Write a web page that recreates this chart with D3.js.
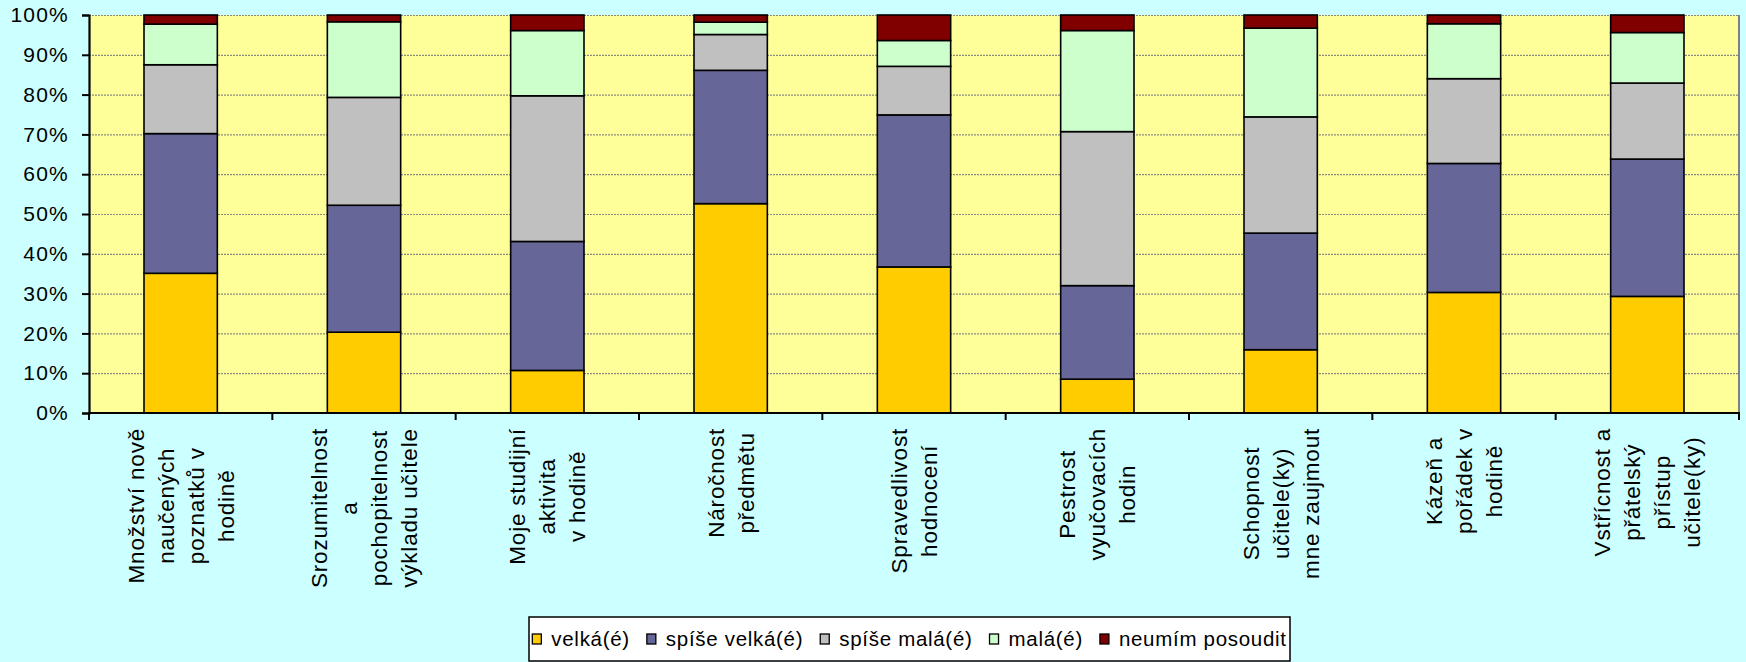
<!DOCTYPE html>
<html>
<head>
<meta charset="utf-8">
<script src="https://cdn.jsdelivr.net/npm/d3@7"></script>
<style>
  html, body { margin: 0; padding: 0; background: #CCFFFF; }
  svg { display: block; }
  text { font-family: "Liberation Sans", Arial, sans-serif; fill: #000; }
</style>
</head>
<body>
<svg id="chart" width="1746" height="662"></svg>
<script>
// ---- data ----
const categories = [
  "Množství nově naučených poznatků v hodině",
  "Srozumitelnost a pochopitelnost výkladu učitele",
  "Moje studijní aktivita v hodině",
  "Náročnost předmětu",
  "Spravedlivost hodnocení",
  "Pestrost vyučovacích hodin",
  "Schopnost učitele(ky) mne zaujmout",
  "Kázeň a pořádek v hodině",
  "Vstřícnost a přátelský přístup učitele(ky)"
];
const categoryLines = [
  ["Množství nově", "naučených", "poznatků v", "hodině"],
  ["Srozumitelnost", "a", "pochopitelnost", "výkladu učitele"],
  ["Moje studijní", "aktivita", "v hodině"],
  ["Náročnost", "předmětu"],
  ["Spravedlivost", "hodnocení"],
  ["Pestrost", "vyučovacích", "hodin"],
  ["Schopnost", "učitele(ky)", "mne zaujmout"],
  ["Kázeň a", "pořádek v", "hodině"],
  ["Vstřícnost a", "přátelský", "přístup", "učitele(ky)"]
];
const seriesNames = ["velká(é)", "spíše velká(é)", "spíše malá(é)", "malá(é)", "neumím posoudit"];
const velka       = [35.1, 20.3, 10.7, 52.6, 36.7,  8.5, 15.9, 30.3, 29.3];
const spiseVelka  = [35.1, 31.9, 32.4, 33.5, 38.2, 23.5, 29.3, 32.4, 34.5];
const spiseMala   = [17.3, 27.1, 36.6,  9.0, 12.2, 38.7, 29.2, 21.3, 19.1];
const mala        = [10.2, 19.0, 16.4,  3.1,  6.5, 25.4, 22.3, 13.8, 12.7];
const neumim      = [ 2.3,  1.7,  3.9,  1.8,  6.4,  3.9,  3.3,  2.2,  4.4];
const yTicks = [0, 10, 20, 30, 40, 50, 60, 70, 80, 90, 100];
const colors = ["#FFCC00", "#666699", "#C0C0C0", "#CCFFCC", "#800000"];

// ---- build table ----
const seriesValues = [velka, spiseVelka, spiseMala, mala, neumim];
const table = categories.map((c, i) => {
  const row = { cat: c };
  seriesNames.forEach((s, k) => row[s] = seriesValues[k][i]);
  return row;
});

const svg = d3.select("#chart");
const plot = { left: 89, right: 1739, top: 15, bottom: 413 };

const x = d3.scaleBand().domain(categories).range([plot.left, plot.right])
  .paddingInner(0.6).paddingOuter(0.3);
const y = d3.scaleLinear().domain([0, 100]).range([plot.bottom, plot.top]);

// plot background
svg.append("rect")
  .attr("x", plot.left).attr("y", plot.top)
  .attr("width", plot.right - plot.left).attr("height", plot.bottom - plot.top)
  .attr("fill", "#FFFF99");

// gridlines
svg.append("g").selectAll("line").data(yTicks.filter(t => t > 0)).join("line")
  .attr("x1", plot.left).attr("x2", plot.right)
  .attr("y1", d => y(d) + 0.5).attr("y2", d => y(d) + 0.5)
  .attr("stroke", "#8a8a80").attr("stroke-width", 1.2)
  .attr("stroke-dasharray", "2,1");

// right border
svg.append("line")
  .attr("x1", plot.right).attr("x2", plot.right)
  .attr("y1", plot.top).attr("y2", plot.bottom)
  .attr("stroke", "#808080").attr("stroke-width", 2);

// stacked bars
const stack = d3.stack().keys(seriesNames);
const stacked = stack(table);
svg.append("g").selectAll("g").data(stacked).join("g")
  .attr("fill", (d, i) => colors[i])
  .selectAll("rect").data(d => d).join("rect")
  .attr("x", d => x(d.data.cat))
  .attr("width", x.bandwidth())
  .attr("y", d => y(d[1]))
  .attr("height", d => y(d[0]) - y(d[1]))
  .attr("stroke", "#000").attr("stroke-width", 1.6);

// y axis
const yAxis = d3.axisLeft(y).tickValues(yTicks).tickFormat(d => d + "%")
  .tickSize(7).tickPadding(13);
const yg = svg.append("g").attr("transform", `translate(${plot.left},0)`).call(yAxis);
yg.select(".domain").attr("stroke", "#000").attr("stroke-width", 2.2);
yg.selectAll(".tick line").attr("stroke", "#000").attr("stroke-width", 2);
yg.selectAll(".tick text")
  .style("font-family", '"Liberation Sans", Arial, sans-serif')
  .style("font-size", "21px").style("letter-spacing", "1.2px").attr("fill", "#000");

// x axis line and ticks at band boundaries
svg.append("line")
  .attr("x1", plot.left - 1).attr("x2", plot.right + 1)
  .attr("y1", plot.bottom).attr("y2", plot.bottom)
  .attr("stroke", "#000").attr("stroke-width", 2.2);
const step = x.step();
const x0 = x.range()[0];
svg.append("g").selectAll("line").data(d3.range(categories.length + 1)).join("line")
  .attr("x1", i => x0 + i * step).attr("x2", i => x0 + i * step)
  .attr("y1", plot.bottom).attr("y2", plot.bottom + 7)
  .attr("stroke", "#000").attr("stroke-width", 2);

// category labels (rotated, multi-line, centred)
const fs = 22.5, lh = 30, labelTop = 428;
categories.forEach((c, ci) => {
  const lines = categoryLines[ci];
  const xc = x(c) + x.bandwidth() / 2;
  const g = svg.append("g");
  const texts = lines.map(l => g.append("text")
    .text(l)
    .style("font-size", fs + "px")
    .style("letter-spacing", "0.8px")
    .attr("text-anchor", "middle"));
  const W = d3.max(texts, t => t.node().getComputedTextLength());
  const yc = labelTop + W / 2;
  const n = lines.length;
  texts.forEach((t, i) => {
    const bx = xc - (n - 1) / 2 * lh + i * lh + fs * 0.36;
    t.attr("transform", `translate(${bx},${yc}) rotate(-90)`);
  });
});

// legend
const legend = { left: 529, right: 1290, top: 617, bottom: 661 };
svg.append("rect")
  .attr("x", legend.left).attr("y", legend.top)
  .attr("width", legend.right - legend.left).attr("height", legend.bottom - legend.top)
  .attr("fill", "#fff").attr("stroke", "#000").attr("stroke-width", 1.5);
const lg = svg.append("g");
const items = seriesNames.map((s, i) => {
  const g = lg.append("g");
  g.append("rect").attr("width", 9).attr("height", 10)
    .attr("fill", colors[i]).attr("stroke", "#000").attr("stroke-width", 1.3);
  const t = g.append("text").text(s).attr("x", 19).attr("y", 12)
    .style("font-size", "20.5px").style("letter-spacing", "0.7px");
  return { g, w: 19 + t.node().getComputedTextLength() };
});
const gap = 17;
const total = d3.sum(items, d => d.w) + gap * (items.length - 1);
let cx = (legend.left + legend.right) / 2 - total / 2;
items.forEach(it => {
  it.g.attr("transform", `translate(${cx},634)`);
  cx += it.w + gap;
});
</script>
</body>
</html>
